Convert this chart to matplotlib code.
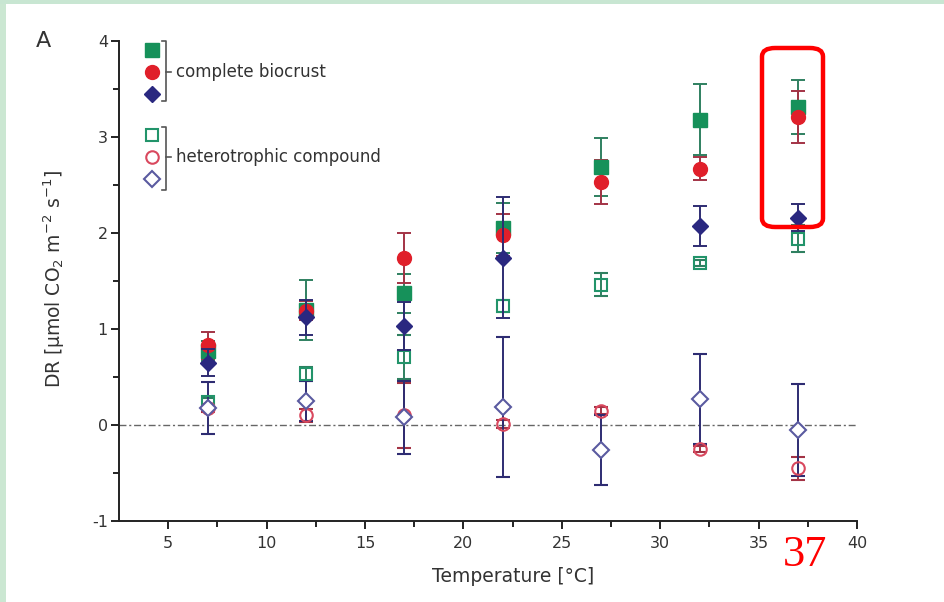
import numpy as np
import matplotlib
matplotlib.use("Agg")
import matplotlib.pyplot as plt
from matplotlib.patches import FancyBboxPatch, Rectangle

plt.rcParams['font.family'] = ['DejaVu Sans']
plt.rcParams['axes.unicode_minus'] = False

nan = np.nan
temps = [7, 12, 17, 22, 27, 32, 37]

# complete biocrust (filled)
cb_green = [0.77, 1.20, 1.37, 2.05, 2.69, 3.18, 3.31]
cb_green_err = [0.10, 0.31, 0.20, 0.26, 0.30, 0.37, 0.28]
cb_red = [0.83, 1.19, 1.74, 1.98, 2.53, 2.67, 3.21]
cb_red_err = [0.14, 0.10, 0.26, 0.22, 0.23, 0.12, 0.27]
cb_blue = [0.65, 1.12, 1.03, 1.74, nan, 2.07, 2.16]
cb_blue_err = [0.14, 0.18, 0.25, 0.63, nan, 0.21, 0.14]

# heterotrophic compound (open)
h_green = [0.24, 0.53, 0.71, 1.24, 1.46, 1.69, 1.94]
h_green_err = [0.04, 0.07, 0.23, 0.06, 0.12, 0.03, 0.14]
h_red = [0.18, 0.10, 0.10, 0.01, 0.15, -0.25, -0.45]
h_red_err = [0.04, 0.07, 0.34, 0.04, 0.04, 0.03, 0.12]
h_blue = [0.18, 0.25, 0.08, 0.19, -0.26, 0.27, -0.05]
h_blue_err = [0.27, 0.21, 0.38, 0.73, 0.36, 0.47, 0.48]

x_ticks = [5, 10, 15, 20, 25, 30, 35, 40]
y_ticks = [-1, 0, 1, 2, 3, 4]
legend_labels = ["complete biocrust", "heterotrophic compound"]

GREEN = '#16915a'
RED = '#e01f2a'
BLUE = '#2a2880'
GREEN_E = '#2f8060'
RED_E = '#a33345'
BLUE_E = '#2e2c72'
OGREEN = '#22946a'
ORED = '#d9485e'
OBLUE = '#5a5aa0'
TXT = '#333333'

fig = plt.figure(figsize=(9.45, 6.02), dpi=100)
fig.patch.set_facecolor('white')
# light green slide border
fig.add_artist(Rectangle((0, 0), 6/945, 1, transform=fig.transFigure,
                         facecolor='#cbe7d2', edgecolor='none', zorder=0))
fig.add_artist(Rectangle((0, 1 - 4/602), 1, 4/602, transform=fig.transFigure,
                         facecolor='#c8e6d2', edgecolor='none', zorder=0))

ax = fig.add_axes([119/945, 1 - 521/602, 738/945, 480/602])
ax.set_xlim(2.5, 40)
ax.set_ylim(-1, 4)
for s in ['top', 'right']:
    ax.spines[s].set_visible(False)
for s in ['left', 'bottom']:
    ax.spines[s].set_linewidth(1.4)
    ax.spines[s].set_color('#222222')

ax.set_xticks(x_ticks)
ax.set_yticks(y_ticks)
ax.set_xticks(np.arange(7.5, 40, 5), minor=True)
ax.set_yticks(np.arange(-0.5, 4, 1), minor=True)
ax.tick_params(which='major', direction='out', length=6, width=1.4,
               color='#222222', labelsize=11.5, labelcolor=TXT)
ax.tick_params(axis='x', which='major', pad=5)
ax.tick_params(axis='y', which='major', pad=2)
ax.tick_params(which='minor', direction='out', length=4, width=1.4, color='#222222')

ax.axhline(0, color='#666666', lw=1.0, ls=(0, (5, 2, 1.5, 2)), zorder=1)

kw = dict(capsize=5, elinewidth=1.4, capthick=1.4, linestyle='none')
# heterotrophic compound
ax.errorbar(temps, h_green, yerr=h_green_err, marker='s', ms=8, mfc='none',
            mec=OGREEN, mew=1.5, ecolor=GREEN_E, zorder=3, **kw)
ax.errorbar(temps, h_red, yerr=h_red_err, marker='o', ms=9, mfc='none',
            mec=ORED, mew=1.5, ecolor=RED_E, zorder=3, **kw)
ax.errorbar(temps, h_blue, yerr=h_blue_err, marker='D', ms=8.5, mfc='white',
            mec=OBLUE, mew=1.5, ecolor=BLUE_E, zorder=3, **kw)
# complete biocrust
ax.errorbar(temps, cb_green, yerr=cb_green_err, marker='s', ms=9.5, mfc=GREEN,
            mec=GREEN, ecolor=GREEN_E, zorder=4, **kw)
ax.errorbar(temps, cb_red, yerr=cb_red_err, marker='o', ms=10, mfc=RED,
            mec=RED, ecolor=RED_E, zorder=4, **kw)
ax.errorbar(temps, cb_blue, yerr=cb_blue_err, marker='D', ms=8.5, mfc=BLUE,
            mec=BLUE, ecolor=BLUE_E, zorder=5, **kw)

ax.set_xlabel('Temperature [°C]', fontsize=13.5, color=TXT)
ax.xaxis.set_label_coords((513 - 119) / 738, -(567 - 521) / 480)
ax.set_ylabel(r'DR [µmol CO$_2$ m$^{-2}$ s$^{-1}$]', fontsize=13.5, color=TXT)
ax.yaxis.set_label_coords(-(119 - 67) / 738, (521 - 279) / 480)

# legend with brackets (axes fraction coords)
T = ax.transAxes
def fy(py):
    return (521 - py) / 480
def fx(px):
    return (px - 119) / 738

lx = fx(152)
ax.plot([lx], [fy(50)], marker='s', ms=9.5, color=GREEN, transform=T, clip_on=False)
ax.plot([lx], [fy(72)], marker='o', ms=10, color=RED, transform=T, clip_on=False)
ax.plot([lx], [fy(94)], marker='D', ms=8.5, color=BLUE, transform=T, clip_on=False)
ax.plot([lx], [fy(135)], marker='s', ms=8.5, mfc='none', mec=OGREEN, mew=1.5,
        transform=T, clip_on=False)
ax.plot([lx], [fy(157)], marker='o', ms=9, mfc='none', mec=ORED, mew=1.5,
        transform=T, clip_on=False)
ax.plot([lx], [fy(179)], marker='D', ms=8.5, mfc='none', mec=OBLUE, mew=1.5,
        transform=T, clip_on=False)

bc = '#555555'
for top, bot, mid, lab in [(41, 101, 72, legend_labels[0]),
                           (127, 190, 157, legend_labels[1])]:
    ax.plot([fx(162), fx(166), fx(166), fx(162)], [fy(top), fy(top), fy(bot), fy(bot)],
            color=bc, lw=1.2, transform=T, clip_on=False)
    ax.plot([fx(166), fx(171)], [fy(mid), fy(mid)], color=bc, lw=1.2,
            transform=T, clip_on=False)
    ax.text(fx(176), fy(mid), lab, transform=T, fontsize=12, color=TXT,
            va='center', ha='left')

fig.text(43/945, 1 - 41/602, 'A', fontsize=16, color=TXT, ha='center', va='center')

# red highlight box and annotation
fig.add_artist(FancyBboxPatch((762/945, 1 - 227/602), 61/945, 179/602,
                              boxstyle='round,pad=0,rounding_size=0.014',
                              transform=fig.transFigure, facecolor='none',
                              edgecolor='#ff0000', lw=3.2, zorder=10))
fig.text(805/945, 1 - 555/602, '37', fontsize=32, color='#ff0000',
         family='Liberation Serif', ha='center', va='center')

fig.savefig('out.png', dpi=100)
